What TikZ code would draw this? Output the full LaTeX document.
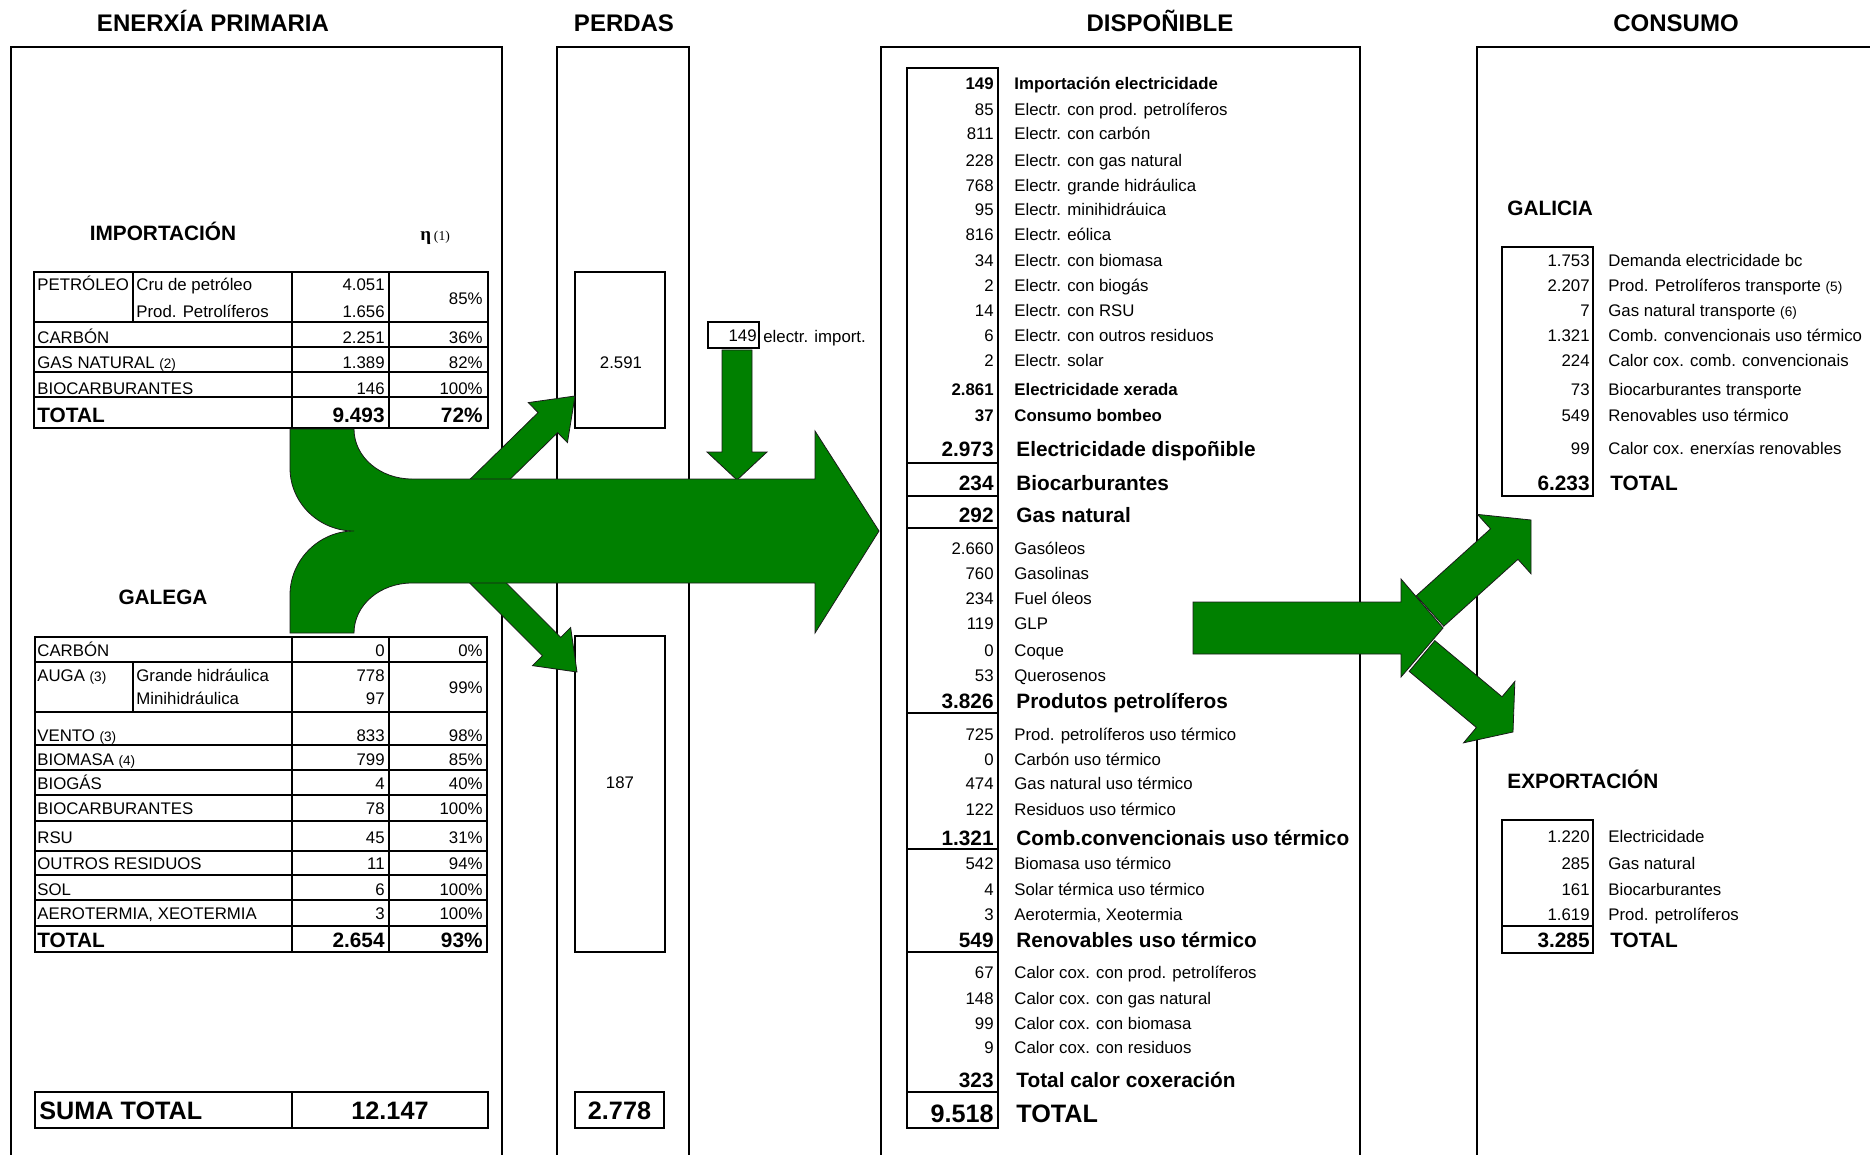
\documentclass[tikz,border=0pt]{standalone}
\usepackage{fontspec}
\setmainfont{Liberation Sans}
\newfontfamily\etafont{Liberation Serif}
\usetikzlibrary{calc}
\definecolor{xlgreen}{HTML}{008000}
\definecolor{xlline}{HTML}{1A1A1A}
\newcommand\cellfont{\fontsize{8.4}{10}\selectfont}
\newcommand\notefont{\fontsize{6.8}{7}\selectfont}
\newcommand\sumfont{\fontsize{10.4}{12}\selectfont\bfseries}
\newcommand\totfont{\fontsize{12.6}{14}\selectfont\bfseries}
\newcommand\titfont{\fontsize{12}{14}\selectfont\bfseries}
\tikzset{
  frame/.style={line width=1pt, draw=black},
  grid/.style={line width=1pt, draw=black},
  cellbox/.style={draw=black, line width=1pt, inner sep=0pt},
  coltitle/.style={anchor=mid, inner sep=0pt, font=\titfont},
  sectitle/.style={anchor=mid, inner sep=0pt, font=\sumfont},
  numtxt/.style={anchor=mid east, inner sep=0pt, font=\cellfont, yshift=-0.7pt},
  lbltxt/.style={anchor=mid west, inner sep=0pt, font=\cellfont, yshift=-0.7pt},
  numbold/.style={anchor=mid east, inner sep=0pt, font=\cellfont\bfseries, yshift=-0.7pt},
  lblbold/.style={anchor=mid west, inner sep=0pt, font=\cellfont\bfseries, yshift=-0.7pt},
  numhead/.style={anchor=mid east, inner sep=0pt, font=\sumfont, yshift=-1.7pt},
  lblhead/.style={anchor=mid west, inner sep=0pt, font=\sumfont, yshift=-1.7pt},
  numtot/.style={anchor=mid east, inner sep=0pt, font=\totfont, yshift=-2.3pt},
  lbltot/.style={anchor=mid west, inner sep=0pt, font=\totfont, yshift=-2.3pt},
  midtot/.style={anchor=mid, inner sep=0pt, font=\totfont, yshift=-2.3pt},
  plaintxt/.style={anchor=mid, inner sep=0pt, font=\cellfont, yshift=-0.7pt},
  greenflow/.style={fill=xlgreen, draw=xlline, line width=0.4pt, line join=miter},
}
% block arrow: from, to, half shaft, half head, head length
\newcommand\greenarrow[5]{%
  \coordinate (ga-h) at ($(#2)!#5!(#1)$);
  \filldraw[greenflow] ($(#1)!#3!90:(#2)$) -- ($(ga-h)!#3!90:(#2)$) -- ($(ga-h)!#4!90:(#2)$)
    -- (#2) -- ($(ga-h)!#4!-90:(#2)$) -- ($(ga-h)!#3!-90:(#2)$) -- ($(#1)!#3!-90:(#2)$) -- cycle;}

\begin{document}
\begin{tikzpicture}[x=0.5pt, y=-0.5pt, font=\cellfont]
\useasboundingbox (0,0) rectangle (1870,1155);

% ---- column headers ----
\node[coltitle] (hprim) at (213,26) {ENERXÍA PRIMARIA};
\node[coltitle] (hperd) at (624,26) {PERDAS};
\node[coltitle] (hdisp) at (1160,26) {DISPOÑIBLE};
\node[coltitle] (hcons) at (1676,26) {CONSUMO};

% ---- column frames (open at the bottom) ----
\draw[frame] (11,1155) |- (502,47) -- (502,1155);
\draw[frame] (557,1155) |- (689,47) -- (689,1155);
\draw[frame] (881,1155) |- (1360,47) -- (1360,1155);
\draw[frame] (1477,1155) |- (1870,47);

% ---- importacion ----
\node[sectitle] (himp) at (163,235) {IMPORTACIÓN};
\node[anchor=mid west, inner sep=0pt] (eta) at (420,235)
   {{\etafont\bfseries\fontsize{9.5}{11}\selectfont η}\,{\etafont\notefont (1)}};
\draw[grid] (34,272) rectangle (488,428);
\draw[grid] (34,322) -- (488,322) (34,347) -- (488,347) (34,372) -- (488,372) (34,397) -- (488,397);
\draw[grid] (133,272) -- (133,322) (292,272) -- (292,428) (389,272) -- (389,428);
\node[lbltxt] (ipet) at (37,284) {PETRÓLEO};
\node[lbltxt] (icru) at (136,284) {Cru de petróleo};
\node[lbltxt] (iprd) at (136,311) {Prod. Petrolíferos};
\node[numtxt] (icruv) at (385,284) {4.051};
\node[numtxt] (iprdv) at (385,311) {1.656};
\node[numtxt] (ipetp) at (483,298) {85\%};
\foreach \rowy/\rowt/\rowv/\rowp [count=\k] in
  {337/CARBÓN/2.251/36\%, 362/GAS NATURAL {\notefont(2)}/1.389/82\%, 388/BIOCARBURANTES/146/100\%}{
  \node[lbltxt] (il\k) at (37,\rowy) {\rowt};
  \node[numtxt] (iv\k) at (385,\rowy) {\rowv};
  \node[numtxt] (ip\k) at (483,\rowy) {\rowp};
}
\node[lblhead] (itot) at (37,414) {TOTAL};
\node[numhead] (itotv) at (385,414) {9.493};
\node[numhead] (itotp) at (483,414) {72\%};

% ---- galega ----
\node[sectitle] (hgal) at (163,599) {GALEGA};
\draw[grid] (35,637) rectangle (487,952);
\foreach \yy in {662,712,745,770,795,821,851,875,900,926}
  \draw[grid] (35,\yy) -- (487,\yy);
\draw[grid] (133,662) -- (133,712) (292,637) -- (292,952) (389,637) -- (389,952);
\node[lbltxt] (gaug) at (37,675) {AUGA {\notefont(3)}};
\node[lbltxt] (ggra) at (136,675) {Grande hidráulica};
\node[lbltxt] (gmin) at (136,698) {Minihidráulica};
\node[numtxt] (ggrav) at (385,675) {778};
\node[numtxt] (gminv) at (385,698) {97};
\node[numtxt] (gaugp) at (483,687) {99\%};
\foreach \rowy/\rowt/\rowv/\rowp [count=\k] in
  {650/CARBÓN/0/0\%, 735/VENTO {\notefont(3)}/833/98\%, 759/BIOMASA {\notefont(4)}/799/85\%,
   783/BIOGÁS/4/40\%, 808/BIOCARBURANTES/78/100\%, 837/RSU/45/31\%,
   863/OUTROS RESIDUOS/11/94\%, 889/SOL/6/100\%, {913/AEROTERMIA, XEOTERMIA/3/100\%}}{
  \node[lbltxt] (gl\k) at (37,\rowy) {\rowt};
  \node[numtxt] (gv\k) at (385,\rowy) {\rowv};
  \node[numtxt] (gp\k) at (483,\rowy) {\rowp};
}
\node[lblhead] (gtot) at (37,939) {TOTAL};
\node[numhead] (gtotv) at (385,939) {2.654};
\node[numhead] (gtotp) at (483,939) {93\%};

% ---- suma total ----
\draw[grid] (35,1092) rectangle (488,1128);
\draw[grid] (292,1092) -- (292,1128);
\node[lbltot] (sumlbl) at (39,1110) {SUMA TOTAL};
\node[midtot] (sumval) at (390,1110) {12.147};

% ---- perdas ----
\node[cellbox, minimum width=45pt, minimum height=78pt] (perdA) at (620,350) {};
\node[plaintxt] (perdAv) at (621,362) {2.591};
\node[cellbox, minimum width=45pt, minimum height=158pt] (perdB) at (620,794) {};
\node[plaintxt] (perdBv) at (620,782) {187};
\node[cellbox, minimum width=44.5pt, minimum height=18pt] (perdtot) at (619.5,1110) {};
\node[midtot] (perdtotv) at (619.5,1110) {2.778};
\node[cellbox, minimum width=25.5pt, minimum height=13pt] (impbox) at (733.5,335) {};
\node[numtxt] (impv) at (757,335) {149};
\node[lbltxt] (implbl) at (763,336) {electr. import.};

% ---- dispoñible ----
\draw[grid] (907,68) rectangle (998,1128);
\foreach \yy in {463,496,528,713,849,952,1092}
  \draw[grid] (907,\yy) -- (998,\yy);
\foreach \rowy/\rowv/\rowt [count=\k] in
  {109/85/Electr. con prod. petrolíferos, 133/811/Electr. con carbón,
   160/228/Electr. con gas natural, 185/768/Electr. grande hidráulica,
   209/95/Electr. minihidráuica, 234/816/Electr. eólica, 260/34/Electr. con biomasa,
   285/2/Electr. con biogás, 310/14/Electr. con RSU, 335/6/Electr. con outros residuos,
   360/2/Electr. solar, 548/2.660/Gasóleos, 573/760/Gasolinas, 598/234/Fuel óleos,
   623/119/GLP, 650/0/Coque, 675/53/Querosenos, 734/725/Prod. petrolíferos uso térmico,
   759/0/Carbón uso térmico, 783/474/Gas natural uso térmico, 809/122/Residuos uso térmico,
   863/542/Biomasa uso térmico, 889/4/Solar térmica uso térmico,
   {914/3/Aerotermia, Xeotermia}, 972/67/Calor cox. con prod. petrolíferos,
   998/148/Calor cox. con gas natural, 1023/99/Calor cox. con biomasa,
   1047/9/Calor cox. con residuos}{
  \node[numtxt] (dv\k) at (994,\rowy) {\rowv};
  \node[lbltxt] (dl\k) at (1014,\rowy) {\rowt};
}
\foreach \rowy/\rowv/\rowt [count=\k] in
  {83/149/Importación electricidade, 389/2.861/Electricidade xerada, 415/37/Consumo bombeo}{
  \node[numbold] (dbv\k) at (994,\rowy) {\rowv};
  \node[lblbold] (dbl\k) at (1014,\rowy) {\rowt};
}
\foreach \rowy/\rowv/\rowt [count=\k] in
  {448/2.973/Electricidade dispoñible, 482/234/Biocarburantes, 514/292/Gas natural,
   700/3.826/Produtos petrolíferos, 837/1.321/Comb.convencionais uso térmico,
   939/549/Renovables uso térmico, 1079/323/Total calor coxeración}{
  \node[numhead] (dhv\k) at (994,\rowy) {\rowv};
  \node[lblhead] (dhl\k) at (1016,\rowy) {\rowt};
}
\node[numtot] (dtotv) at (994,1113) {9.518};
\node[lbltot] (dtotl) at (1016,1113) {TOTAL};

% ---- consumo: galicia ----
\node[lbltxt, font=\sumfont] (hgalc) at (1507,209) {GALICIA};
\draw[grid] (1502,247) rectangle (1593,496);
\foreach \rowy/\rowv/\rowt [count=\k] in
  {260/1.753/Demanda electricidade bc, 285/2.207/Prod. Petrolíferos transporte {\notefont(5)},
   310/7/Gas natural transporte {\notefont(6)}, 335/1.321/Comb. convencionais uso térmico,
   360/224/Calor cox. comb. convencionais, 389/73/Biocarburantes transporte,
   415/549/Renovables uso térmico, 448/99/Calor cox. enerxías renovables}{
  \node[numtxt] (cv\k) at (1590,\rowy) {\rowv};
  \node[lbltxt] (cl\k) at (1608,\rowy) {\rowt};
}
\node[numhead] (ctotv) at (1590,482) {6.233};
\node[lblhead] (ctotl) at (1610,482) {TOTAL};

% ---- consumo: exportacion ----
\node[lbltxt, font=\sumfont] (hexp) at (1507,782) {EXPORTACIÓN};
\draw[grid] (1502,820) rectangle (1593,953);
\draw[grid] (1502,926) -- (1593,926);
\foreach \rowy/\rowv/\rowt [count=\k] in
  {836/1.220/Electricidade, 863/285/Gas natural, 889/161/Biocarburantes,
   914/1.619/Prod. petrolíferos}{
  \node[numtxt] (ev\k) at (1590,\rowy) {\rowv};
  \node[lbltxt] (el\k) at (1608,\rowy) {\rowt};
}
\node[numhead] (etotv) at (1590,939) {3.285};
\node[lblhead] (etotl) at (1610,939) {TOTAL};

% ---- flows: primaria -> perdas / dispoñible ----
\coordinate (upA) at (476,493);  \coordinate (upB) at (575,396);
\coordinate (dnA) at (473,568);  \coordinate (dnB) at (577,672);
\coordinate (elA) at ($(impbox.south)+(3.5,1)$);  \coordinate (elB) at (737,480);
\greenarrow{upA}{upB}{7pt}{14pt}{19pt}
\greenarrow{dnA}{dnB}{6.5pt}{13.5pt}{18pt}
\greenarrow{elA}{elB}{7.5pt}{15pt}{14pt}
\filldraw[greenflow] (290,429) -- (354,429) .. controls (354,457) and (380,479) .. (412,479)
  -- (815,479) -- (815,431) -- (879,531) -- (815,633) -- (815,583) -- (412,583)
  .. controls (380,583) and (354,605) .. (354,633) -- (290,633) -- (290,595)
  .. controls (290,560) and (319,531) .. (354,531)
  .. controls (319,531) and (290,503) .. (290,468) -- cycle;

% ---- flows: dispoñible -> consumo ----
\coordinate (cnA) at (1193,628); \coordinate (cnB) at (1443,628);
\coordinate (gcA) at (1430,611); \coordinate (gcB) at (1531,520);
\coordinate (exA) at (1422,656); \coordinate (exB) at (1513,732);
\greenarrow{cnA}{cnB}{13pt}{24.5pt}{21pt}
\greenarrow{gcA}{gcB}{10.25pt}{20pt}{18pt}
\greenarrow{exA}{exB}{10pt}{20pt}{15.5pt}

\end{tikzpicture}
\end{document}
